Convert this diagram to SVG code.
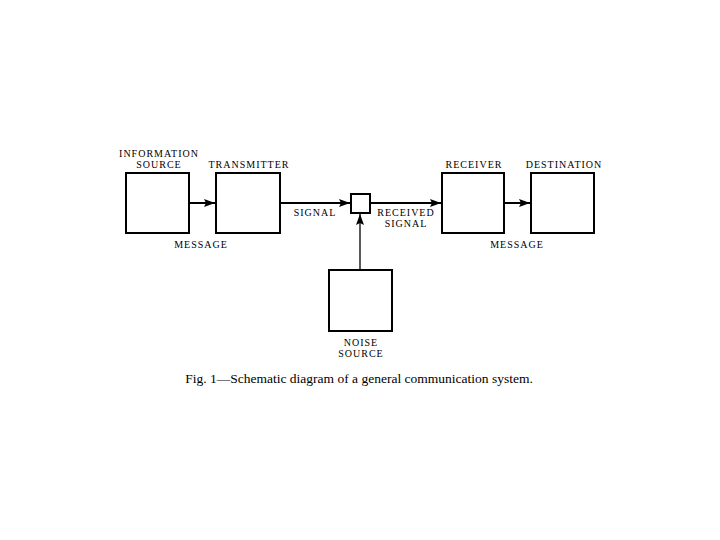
<svg xmlns="http://www.w3.org/2000/svg" width="720" height="540" viewBox="0 0 720 540">
<style>
.box{fill:#fff;stroke:#000;stroke-width:2}
.lbl{font-family:"Liberation Serif","Times New Roman",serif;font-size:10px;letter-spacing:1px;text-anchor:middle;fill:#000}
.cap{font-family:"Liberation Serif","Times New Roman",serif;font-size:13.5px;text-anchor:middle;fill:#000}
.ln{stroke:#000;stroke-width:2;fill:none}
</style>
<defs>
<marker id="ah" viewBox="0 0 11 8" refX="11" refY="4" markerWidth="11" markerHeight="8" markerUnits="userSpaceOnUse" orient="auto">
<path d="M0,0 L11,4 L0,8 L2,4 Z" fill="#000"/>
</marker>
</defs>
<rect width="720" height="540" fill="#fff"/>
<g id="connectors">
<line class="ln" x1="189" y1="203" x2="215" y2="203" marker-end="url(#ah)"/>
<line class="ln" x1="280" y1="203" x2="350" y2="203" marker-end="url(#ah)"/>
<line class="ln" x1="370" y1="203" x2="441" y2="203" marker-end="url(#ah)"/>
<line class="ln" x1="504" y1="203" x2="530" y2="203" marker-end="url(#ah)"/>
<line class="ln" style="stroke-width:1.3" x1="360" y1="270" x2="360" y2="214" marker-end="url(#ah)"/>
</g>
<g id="information-source">
<rect class="box" x="126" y="173" width="63" height="60"/>
<text class="lbl" x="159" y="157">INFORMATION</text>
<text class="lbl" x="159" y="168">SOURCE</text>
</g>
<g id="transmitter">
<rect class="box" x="216" y="173" width="64" height="60"/>
<text class="lbl" x="249" y="168">TRANSMITTER</text>
</g>
<g id="mixer">
<rect class="box" x="351" y="194" width="19" height="19"/>
</g>
<g id="receiver">
<rect class="box" x="442" y="173" width="62" height="60"/>
<text class="lbl" x="474" y="168">RECEIVER</text>
</g>
<g id="destination">
<rect class="box" x="531" y="173" width="63" height="60"/>
<text class="lbl" x="564" y="168">DESTINATION</text>
</g>
<g id="noise-source">
<rect class="box" x="329" y="270" width="63" height="61"/>
<text class="lbl" x="361" y="346">NOISE</text>
<text class="lbl" x="361" y="357">SOURCE</text>
</g>
<g id="labels">
<text class="lbl" x="201" y="248">MESSAGE</text>
<text class="lbl" x="315" y="216">SIGNAL</text>
<text class="lbl" x="406" y="216">RECEIVED</text>
<text class="lbl" x="406" y="227">SIGNAL</text>
<text class="lbl" x="517" y="248">MESSAGE</text>
</g>
<text class="cap" x="359" y="383">Fig. 1—Schematic diagram of a general communication system.</text>
</svg>
